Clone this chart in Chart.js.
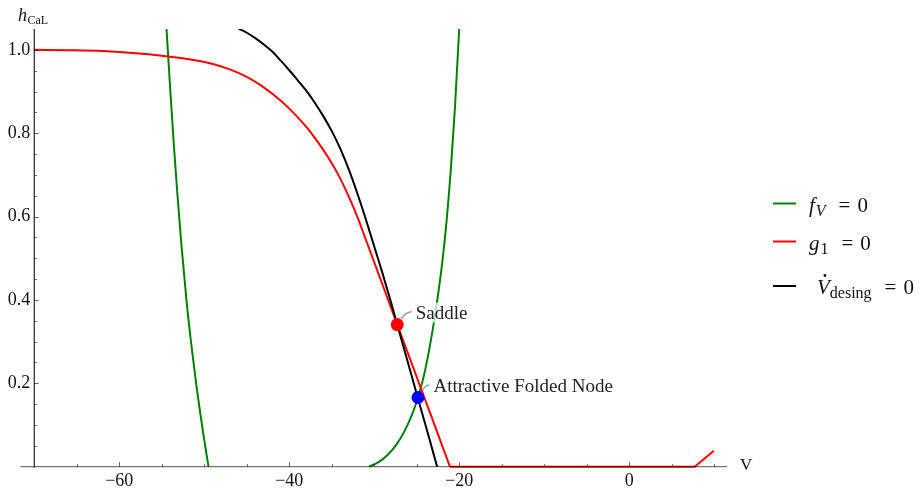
<!DOCTYPE html>
<html>
<head>
<meta charset="utf-8">
<script src="https://cdn.jsdelivr.net/npm/chart.js@4.4.0/dist/chart.umd.min.js"></script>
<style>
  html, body { margin: 0; padding: 0; background: #fff; }
  #wrap { width: 922px; height: 496px; position: relative; }
</style>
</head>
<body>
<div id="wrap"><canvas id="phaseChart"></canvas></div>
<script>
// f_V = 0 nullcline, two branches
const fvLeftV  = [-54.45, -53.99, -53.6, -53.15, -52.71, -52.1, -51.55, -50.96, -50.53, -50.05, -49.5];
const fvLeftH  = [1.052, 0.9, 0.777, 0.65, 0.537, 0.4, 0.297, 0.2, 0.136, 0.07, 0];
const fvRightV = [-30.6, -29.5, -28.5, -27.5, -26.5, -25.5, -24.86, -24.2, -23.5, -22.8, -22.0, -21.5, -21.0, -20.5, -20.0];
const fvRightH = [0, 0.011, 0.027, 0.05, 0.083, 0.128, 0.166, 0.215, 0.285, 0.37, 0.49, 0.588, 0.711, 0.864, 1.054];

// g1 = 0 (curved part, then the flat tail along h = 0)
const g1V = [-70, -66, -62, -58, -55, -52, -49, -47, -45, -43, -41, -40, -39, -38, -37, -36, -35, -34, -33, -32, -31, -30, -29, -28, -27.3, -26, -25, -24, -23, -22, -21.1];
const g1H = [1.0, 0.999, 0.997, 0.992, 0.986, 0.978, 0.966, 0.953, 0.935, 0.91, 0.878, 0.859, 0.838, 0.815, 0.789, 0.760, 0.728, 0.691, 0.648, 0.60, 0.545, 0.49, 0.435, 0.38, 0.341, 0.27, 0.215, 0.16, 0.105, 0.05, 0];
const g1TailV = [-21.1, 7.7, 9.95];
const g1TailH = [0, 0, 0.0385];

// V_desing dot = 0
const vdV = [-46, -45, -44, -43, -42, -41, -40, -39, -38, -37, -36, -35, -34, -33, -32, -31, -30, -29, -28, -27.3, -26, -25, -24, -23, -22.6];
const vdH = [1.051, 1.041, 1.028, 1.013, 0.996, 0.974, 0.951, 0.927, 0.902, 0.873, 0.841, 0.805, 0.763, 0.713, 0.656, 0.594, 0.528, 0.462, 0.392, 0.341, 0.247, 0.174, 0.102, 0.029, 0];

// equilibria
const saddle = { x: -27.3, y: 0.341 };
const node = { x: -24.86, y: 0.166 };

const xTickLabels = [-60, -40, -20, 0];
const yTickLabels = [0.2, 0.4, 0.6, 0.8, 1.0];

const toPts = (xs, ys) => xs.map((x, i) => ({ x: x, y: ys[i] }));
const SERIF = '"Liberation Serif", "DejaVu Serif", serif';

function lineSet(data, color, straight) {
  return {
    data: data, borderColor: color, borderWidth: 2, pointRadius: 0,
    fill: false,
    cubicInterpolationMode: straight ? 'default' : 'monotone',
    tension: 0,
    clip: { left: 2, top: 0, right: 2, bottom: 3 }
  };
}

const overlay = {
  id: 'overlay',
  afterDatasetsDraw(chart) {
    const ctx = chart.ctx;
    const xs = chart.scales.x, ys = chart.scales.y;
    const a = chart.chartArea;
    ctx.save();

    // axes, drawn semi-transparent over the curves
    ctx.lineWidth = 1.3;
    ctx.strokeStyle = 'rgba(0,0,0,0.55)';
    const y0 = ys.getPixelForValue(0);
    const x0 = xs.getPixelForValue(-70);
    ctx.beginPath();
    ctx.moveTo(x0 - 14, y0); ctx.lineTo(a.right, y0);
    ctx.stroke();
    ctx.strokeStyle = 'rgba(0,0,0,0.8)';
    ctx.beginPath();
    ctx.moveTo(x0, a.top); ctx.lineTo(x0, y0 + 1);
    ctx.stroke();

    // inward tick marks
    ctx.strokeStyle = 'rgba(0,0,0,0.6)';
    ctx.lineWidth = 1;
    for (let v = -65; v <= 10; v += 5) {
      const px = Math.round(xs.getPixelForValue(v)) + 0.5;
      const len = v % 20 === 0 ? 4.5 : 2.5;
      ctx.beginPath(); ctx.moveTo(px, y0); ctx.lineTo(px, y0 - len); ctx.stroke();
    }
    for (let k = 1; k <= 20; k++) {
      const py = Math.round(ys.getPixelForValue(k * 0.05)) + 0.5;
      const len = k % 4 === 0 ? 4.5 : 2.5;
      ctx.beginPath(); ctx.moveTo(x0, py); ctx.lineTo(x0 + len, py); ctx.stroke();
    }

    // annotations
    function note(p, text, dx, dy, hook) {
      const cx = xs.getPixelForValue(p.x), cy = ys.getPixelForValue(p.y);
      ctx.font = '19px ' + SERIF;
      const w = ctx.measureText(text).width;
      const tx = cx + dx, ty = cy + dy;
      ctx.fillStyle = 'rgba(255,255,255,0.72)';
      ctx.fillRect(tx - 3, ty - 10, w + 6, 20);
      ctx.strokeStyle = '#a0a0a0';
      ctx.lineWidth = 1.5;
      ctx.beginPath();
      ctx.moveTo(cx + hook[0], cy + hook[1]);
      ctx.quadraticCurveTo(cx + hook[2], cy + hook[3], tx - 4, ty - 1);
      ctx.stroke();
      ctx.fillStyle = '#222';
      ctx.textBaseline = 'middle';
      ctx.textAlign = 'left';
      ctx.fillText(text, tx, ty + 1);
    }
    note(saddle, 'Saddle', 18.5, -12, [4.5, -5.5, 6, -11]);
    note(node, 'Attractive Folded Node', 15.5, -11.5, [5, -7.5, 7, -12]);

    // equilibrium dots on top
    [[saddle, '#ff0000'], [node, '#0000ff']].forEach(([p, c]) => {
      ctx.fillStyle = c;
      ctx.beginPath();
      ctx.arc(xs.getPixelForValue(p.x), ys.getPixelForValue(p.y), 6.5, 0, Math.PI * 2);
      ctx.fill();
    });

    // axis titles
    ctx.fillStyle = '#111';
    ctx.textBaseline = 'alphabetic';
    ctx.textAlign = 'left';
    ctx.font = 'italic 18px ' + SERIF;
    ctx.fillText('h', 18, 21);
    const hw = ctx.measureText('h').width;
    ctx.font = '12px ' + SERIF;
    ctx.fillText('CaL', 18 + hw + 0.5, 24);
    ctx.font = '17px ' + SERIF;
    ctx.textBaseline = 'middle';
    ctx.fillText('V', 740, 466);

    // legend
    const rows = [
      { color: '#008000', main: 'f', sub: 'V', subItalic: true, base: 211.5, dot: false },
      { color: '#ff0000', main: 'g', sub: '1', subItalic: false, base: 249.5, dot: false },
      { color: '#000000', main: 'V', sub: 'desing', subItalic: false, base: 294, dot: true }
    ];
    ctx.textBaseline = 'alphabetic';
    rows.forEach(r => {
      ctx.strokeStyle = r.color;
      ctx.lineWidth = 2;
      ctx.beginPath();
      ctx.moveTo(773, r.base - 8); ctx.lineTo(796, r.base - 8);
      ctx.stroke();
      ctx.fillStyle = '#111';
      let x = r.dot ? 817 : 809;
      ctx.font = 'italic 21px ' + SERIF;
      ctx.fillText(r.main, x, r.base);
      const mw = ctx.measureText(r.main).width;
      if (r.dot) {
        ctx.beginPath();
        ctx.arc(x + mw * 0.62, r.base - 18.5, 1.4, 0, Math.PI * 2);
        ctx.fill();
      }
      x += mw + (r.dot ? 0 : 1);
      ctx.font = (r.subItalic ? 'italic ' : '') + '16px ' + SERIF;
      ctx.fillText(r.sub, x, r.base + 4);
      x += ctx.measureText(r.sub).width + 13;
      ctx.font = '21px ' + SERIF;
      ctx.fillText('=', x, r.base);
      x += ctx.measureText('=').width + 7;
      ctx.fillText('0', x, r.base);
    });

    ctx.restore();
  }
};

new Chart(document.getElementById('phaseChart').getContext('2d'), {
  type: 'line',
  data: {
    datasets: [
      lineSet(toPts(vdV, vdH), '#000000'),
      lineSet(toPts(g1V, g1H), '#ff0000'),
      lineSet(toPts(g1TailV, g1TailH), '#ff0000', true),
      lineSet(toPts(fvLeftV, fvLeftH), '#008000'),
      lineSet(toPts(fvRightV, fvRightH), '#008000')
    ]
  },
  options: {
    responsive: true,
    maintainAspectRatio: false,
    animation: false,
    devicePixelRatio: 1,
    layout: { padding: { left: 0, top: 29, right: 195, bottom: 0 } },
    plugins: { legend: { display: false }, tooltip: { enabled: false } },
    scales: {
      x: {
        type: 'linear', min: -70, max: 11.5,
        grid: { display: false, drawTicks: false }, border: { display: false },
        afterFit: s => { s.height = 29.3; },
        ticks: {
          stepSize: 5, autoSkip: false, maxRotation: 0, padding: 4,
          color: '#111', font: { family: SERIF, size: 18 },
          callback: v => xTickLabels.includes(v) ? (v < 0 ? '\u2212' + Math.abs(v) : String(v)) : ''
        }
      },
      y: {
        type: 'linear', min: 0, max: 1.05,
        grid: { display: false, drawTicks: false }, border: { display: false },
        afterFit: s => { s.width = 34.3; },
        ticks: {
          stepSize: 0.05, autoSkip: false, padding: 4,
          color: '#111', font: { family: SERIF, size: 18 },
          callback: v => yTickLabels.some(t => Math.abs(t - v) < 1e-6) ? v.toFixed(1) : ''
        }
      }
    }
  },
  plugins: [overlay]
});
</script>
</body>
</html>
